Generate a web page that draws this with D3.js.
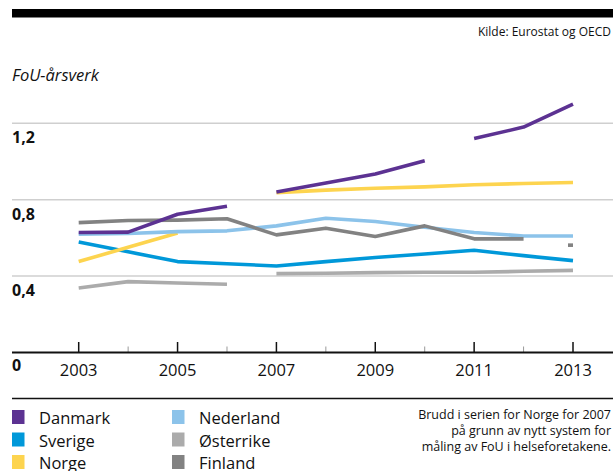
<!DOCTYPE html>
<html><head><meta charset="utf-8">
<script src="https://cdn.jsdelivr.net/npm/d3@7"></script>
<style>
html,body{margin:0;padding:0;background:#fff;}
svg{display:block;font-family:"Open Sans",sans-serif;}
</style></head>
<body><svg id="c" width="613" height="471"></svg>
<script>
const years = [2003,2004,2005,2006,2007,2008,2009,2010,2011,2012,2013];
const yearLabels = [2003,2005,2007,2009,2011,2013];
const yTicks = [0.4,0.8,1.2];
const yTickLabels = ["0,4","0,8","1,2"];

const danmark   = [0.628,0.630,0.724,0.766,0.840,0.887,0.935,1.004,1.120,1.180,1.300];
const sverige   = [0.578,0.527,0.476,0.465,0.453,0.476,0.497,0.516,0.535,0.507,0.481];
const norge     = [0.476,0.551,0.626,null,0.837,0.850,0.860,0.867,0.878,0.885,0.890];
const nederland = [0.620,0.623,0.633,0.637,0.663,0.703,0.686,0.656,0.628,0.610,0.610];
const osterrike = [0.338,0.371,0.364,0.357,0.413,0.415,0.418,0.420,0.420,0.425,0.430];
const finland   = [0.680,0.691,0.693,0.700,0.616,0.651,0.607,0.663,0.595,0.595,0.562];

const danmarkBreaks = [2007,2011];
const osterrikeBreaks = [2007];
const finlandBreaks = [2013];

const names = ["Danmark","Sverige","Norge","Nederland","Østerrike","Finland"];
const colors = ["#5c3292","#0098d9","#fdd44f","#8cc3ea","#ababab","#828282"];
const seriesValues = [danmark,sverige,norge,nederland,osterrike,finland];
const seriesBreaks = [danmarkBreaks,[],[],[],osterrikeBreaks,finlandBreaks];
const drawOrder = [4,1,2,3,5,0];

const svg = d3.select("#c");
const x = d3.scaleLinear().domain([2003,2013]).range([78.7,573]);
const y = d3.scaleLinear().domain([0,1.2]).range([352.5,123.3]);

// top bar
svg.append("rect").attr("x",12).attr("y",9).attr("width",601).attr("height",8.5).attr("fill","#000");
svg.append("text").attr("x",611).attr("y",35.5).attr("text-anchor","end")
  .attr("font-size",12).attr("fill","#111").text("Kilde: Eurostat og OECD");
svg.append("text").attr("x",12).attr("y",81).attr("font-size",16.5).attr("font-style","italic")
  .attr("fill","#111").text("FoU-årsverk");

// gridlines
svg.append("g").selectAll("line").data(yTicks).join("line")
  .attr("x1",12).attr("x2",613).attr("y1",d=>y(d)).attr("y2",d=>y(d))
  .attr("stroke","#cfcfcf").attr("stroke-width",1.5);
svg.append("g").selectAll("text").data(yTicks).join("text")
  .attr("x",12).attr("y",d=>y(d)+20).attr("font-size",16).attr("font-weight","bold")
  .attr("fill","#111").text((d,i)=>yTickLabels[i]);
svg.append("text").attr("x",12).attr("y",371).attr("font-size",16).attr("font-weight","bold")
  .attr("fill","#111").text("0");

// x axis
const minorYears = years.filter(v=>!yearLabels.includes(v));
svg.append("g").selectAll("line").data(minorYears).join("line")
  .attr("x1",d=>x(d)).attr("x2",d=>x(d)).attr("y1",y(0)-6).attr("y2",y(0))
  .attr("stroke","#999").attr("stroke-width",1);
svg.append("g").selectAll("line").data(yearLabels).join("line")
  .attr("x1",d=>x(d)).attr("x2",d=>x(d)).attr("y1",y(0)-10.5).attr("y2",y(0))
  .attr("stroke","#111").attr("stroke-width",1.5);
svg.append("line").attr("x1",12).attr("x2",613).attr("y1",y(0)).attr("y2",y(0))
  .attr("stroke","#111").attr("stroke-width",2.2);
svg.append("g").selectAll("text").data(yearLabels).join("text")
  .attr("x",d=>x(d)).attr("y",375.5).attr("text-anchor","middle").attr("font-size",16.5)
  .attr("fill","#111").text(d=>d);

// series
const line = d3.line().x(d=>x(d.year)).y(d=>y(d.v));
drawOrder.forEach(i=>{
  const vals = seriesValues[i], br = seriesBreaks[i];
  const segs = []; let cur = [];
  years.forEach((yr,j)=>{
    const v = vals[j];
    if (v==null || br.includes(yr)) { if(cur.length) segs.push(cur); cur=[]; }
    if (v!=null) cur.push({year:yr,v});
  });
  if(cur.length) segs.push(cur);
  segs.forEach(s=>{
    if (s.length>1) {
      svg.append("path").attr("d",line(s)).attr("fill","none")
        .attr("stroke",colors[i]).attr("stroke-width",3.6).attr("stroke-linejoin","round");
    } else {
      svg.append("rect").attr("x",x(s[0].year)-5).attr("y",y(s[0].v)-1.8)
        .attr("width",5).attr("height",3.6).attr("fill",colors[i]);
    }
  });
});

// separator
svg.append("line").attr("x1",12).attr("x2",613).attr("y1",398.5).attr("y2",398.5)
  .attr("stroke","#111").attr("stroke-width",1.5);

// legend
const leg = svg.append("g");
names.forEach((n,i)=>{
  const col = Math.floor(i/3), row = i%3;
  const gx = 12 + col*160, gy = 410 + row*22.5;
  leg.append("rect").attr("x",gx).attr("y",gy).attr("width",12.5).attr("height",14).attr("fill",colors[i]);
  leg.append("text").attr("x",gx+27).attr("y",gy+14).attr("font-size",16.5).attr("fill","#111").text(n);
});

// note
const note = ["Brudd i serien for Norge for 2007","på grunn av nytt system for","måling av FoU i helseforetakene."];
svg.append("g").selectAll("text").data(note).join("text")
  .attr("x",611).attr("y",(d,i)=>419+i*16).attr("text-anchor","end").attr("font-size",12.5)
  .attr("fill","#111").text(d=>d);
</script></body></html>
